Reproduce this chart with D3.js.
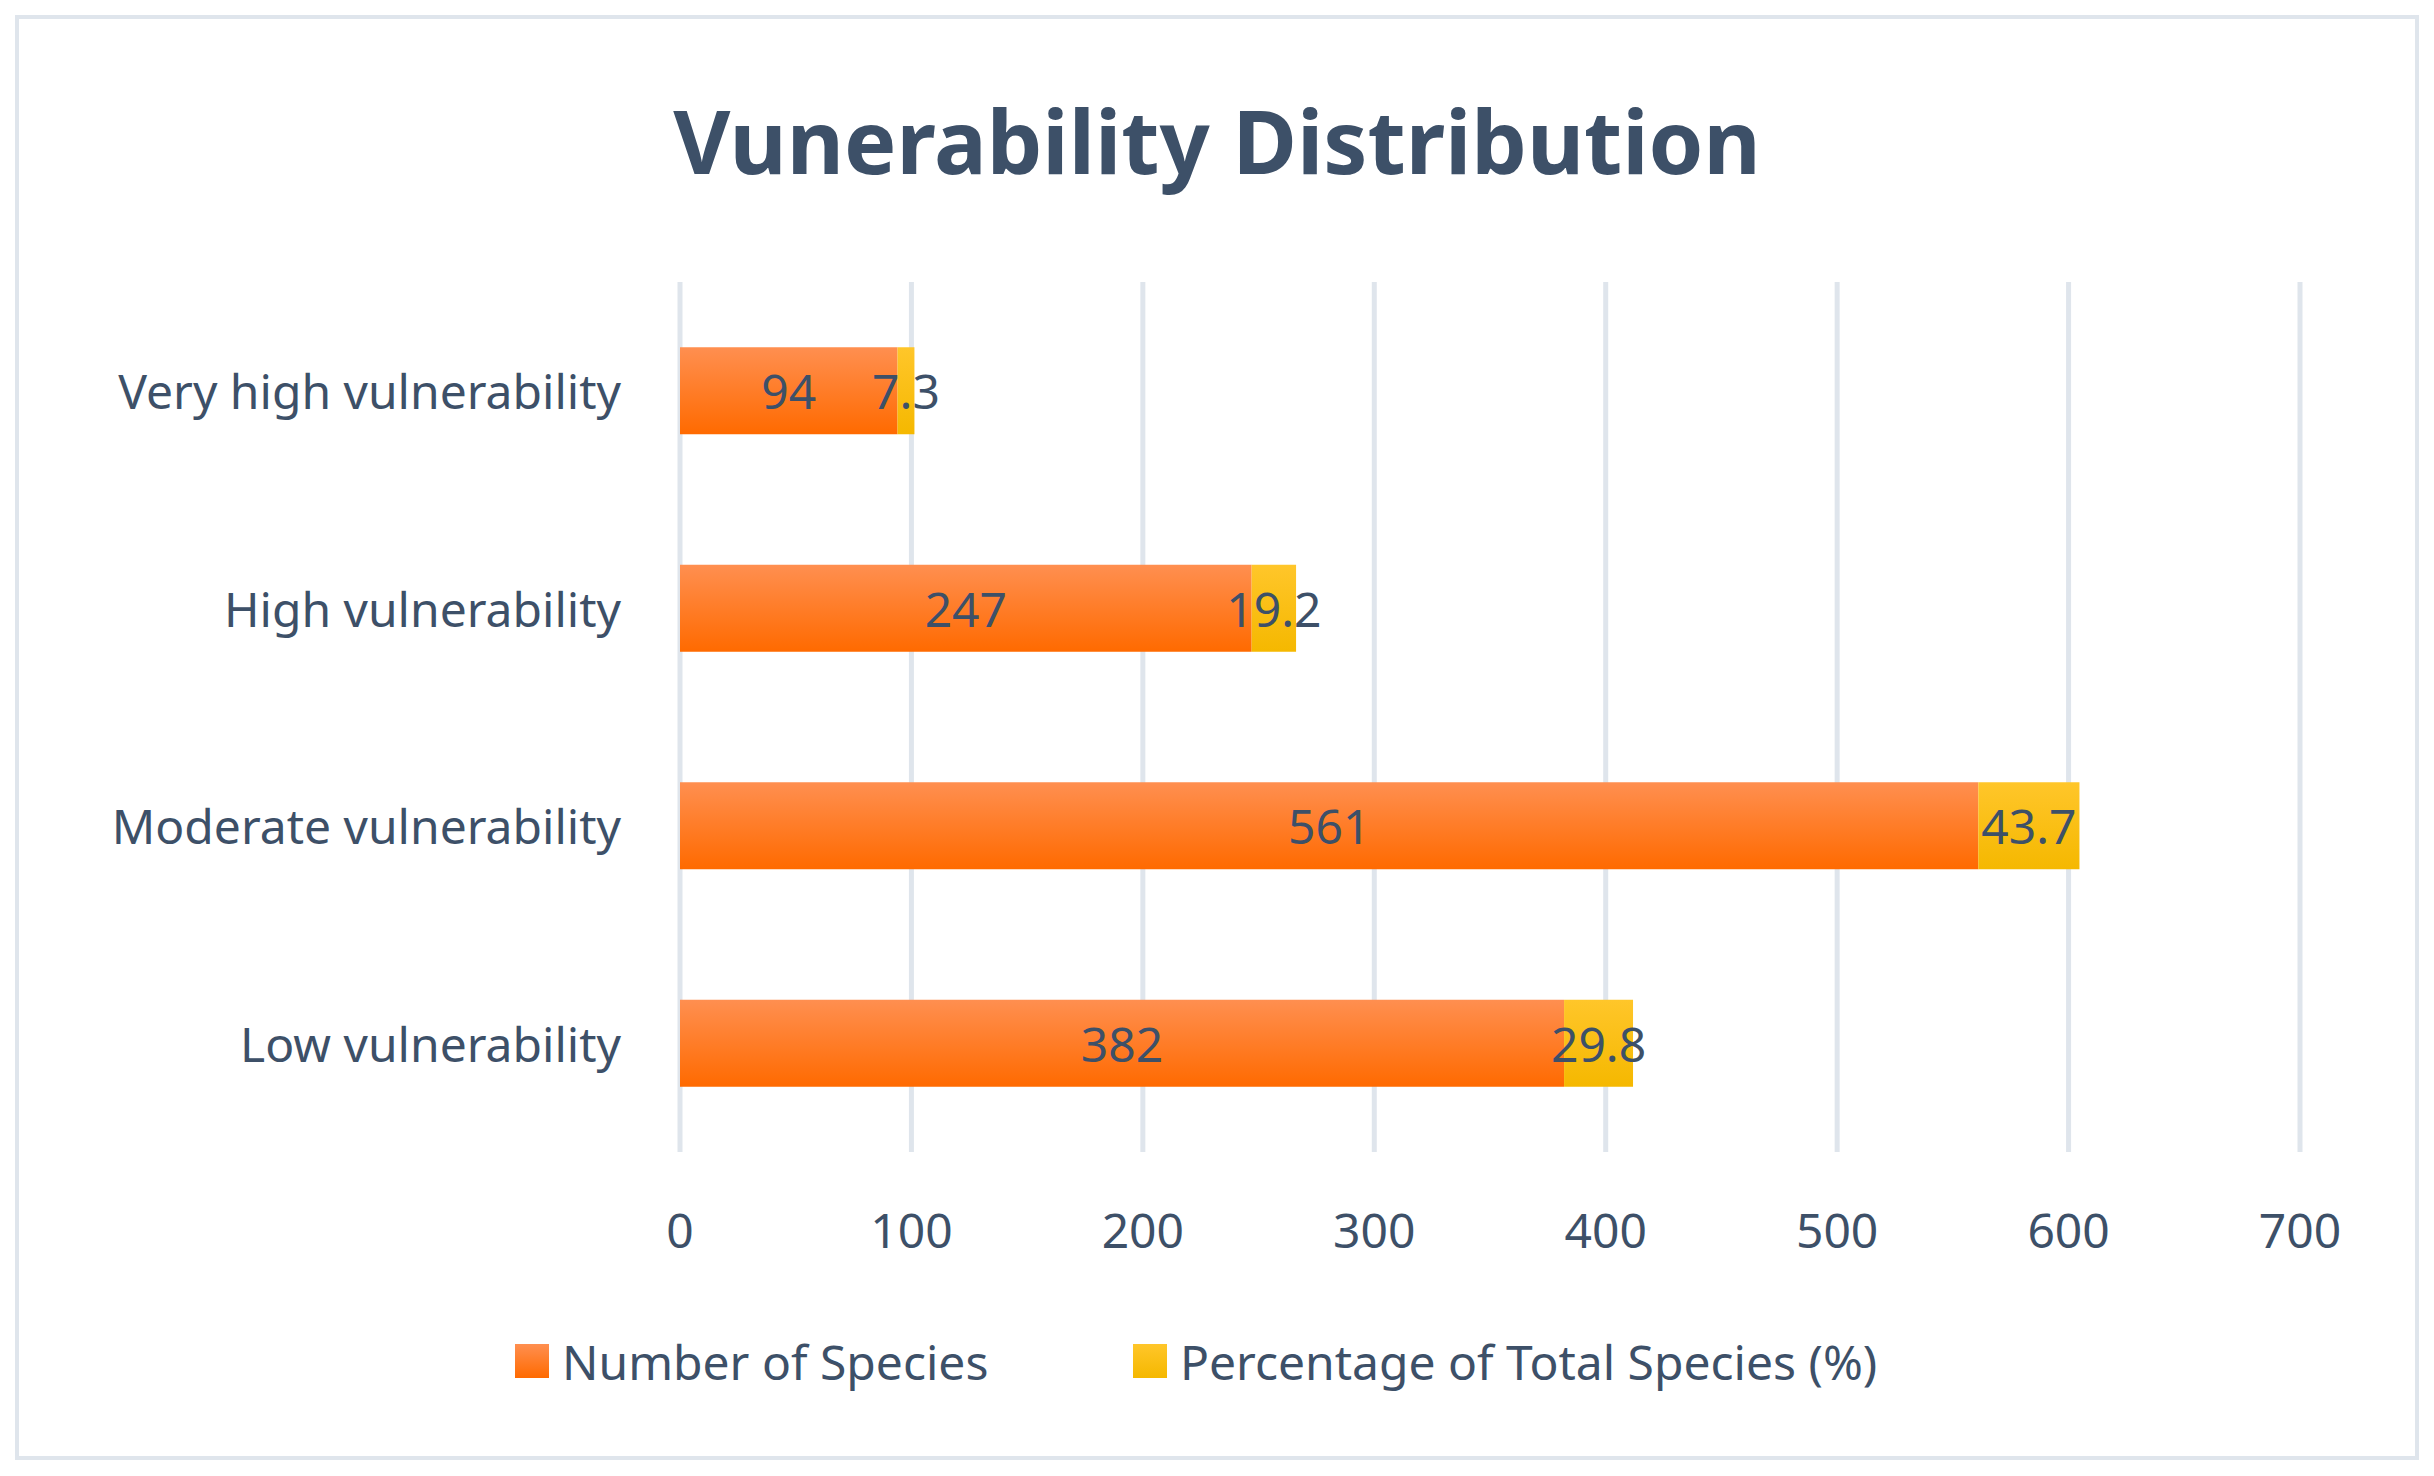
<!DOCTYPE html><html><head><meta charset="utf-8"><script src="https://cdn.jsdelivr.net/npm/d3@7"></script>
<style>body{margin:0;background:#fff}text{font-family:"Noto Sans",sans-serif;fill:#3d5068}</style></head><body><svg id="c" width="2434" height="1476"></svg><script>
const categories=["Very high vulnerability","High vulnerability","Moderate vulnerability","Low vulnerability"];
const numberOfSpecies=[94,247,561,382];
const percentage=[7.3,19.2,43.7,29.8];
const ticks=[0,100,200,300,400,500,600,700];
const seriesNames=["Number of Species","Percentage of Total Species (%)"];
const svg=d3.select("#c");
const defs=svg.append("defs");
const g1=defs.append("linearGradient").attr("id","go").attr("x1",0).attr("y1",0).attr("x2",0).attr("y2",1);
g1.append("stop").attr("offset","0").attr("stop-color","#ff8f50");g1.append("stop").attr("offset","1").attr("stop-color","#ff6a00");
const g2=defs.append("linearGradient").attr("id","gy").attr("x1",0).attr("y1",0).attr("x2",0).attr("y2",1);
g2.append("stop").attr("offset","0").attr("stop-color","#ffc62a");g2.append("stop").attr("offset","1").attr("stop-color","#f5b800");
svg.append("rect").attr("x",17).attr("y",17).attr("width",2400).attr("height",1441).attr("fill","#fff").attr("stroke","#dfe5ec").attr("stroke-width",4);
svg.append("text").attr("x",1217).attr("y",140).attr("text-anchor","middle").attr("dominant-baseline","central").attr("font-size",88).attr("font-weight","bold").text("Vunerability Distribution");
const x=d3.scaleLinear().domain([0,700]).range([680,2300]);
const y=d3.scaleBand().domain(categories).range([282,1152]).paddingInner(0.6).paddingOuter(0.3);
svg.append("g").selectAll("line").data(ticks).join("line").attr("x1",d=>x(d)).attr("x2",d=>x(d)).attr("y1",282).attr("y2",1152).attr("stroke","#dfe5ec").attr("stroke-width",5);
svg.append("g").selectAll("text").data(ticks).join("text").attr("x",d=>x(d)).attr("y",1229).attr("text-anchor","middle").attr("dominant-baseline","central").attr("font-size",48).text(d=>d);
svg.append("g").selectAll("text").data(categories).join("text").attr("x",621).attr("y",d=>y(d)+y.bandwidth()/2).attr("text-anchor","end").attr("dominant-baseline","central").attr("font-size",48).text(d=>d);
categories.forEach((c,i)=>{
 const a=numberOfSpecies[i],b=percentage[i],yy=y(c),h=y.bandwidth();
 svg.append("rect").attr("x",x(0)).attr("y",yy).attr("width",x(a)-x(0)).attr("height",h).attr("fill","url(#go)");
 svg.append("rect").attr("x",x(a)).attr("y",yy).attr("width",x(a+b)-x(a)).attr("height",h).attr("fill","url(#gy)");
 svg.append("text").attr("x",(x(0)+x(a))/2).attr("y",yy+h/2).attr("text-anchor","middle").attr("dominant-baseline","central").attr("font-size",48).text(a);
 svg.append("text").attr("x",(x(a)+x(a+b))/2).attr("y",yy+h/2).attr("text-anchor","middle").attr("dominant-baseline","central").attr("font-size",48).text(b);
});
const lx=[515,1133],fills=["url(#go)","url(#gy)"];
seriesNames.forEach((s,i)=>{
 svg.append("rect").attr("x",lx[i]).attr("y",1344).attr("width",34).attr("height",34).attr("fill",fills[i]);
 svg.append("text").attr("x",lx[i]+47).attr("y",1361).attr("dominant-baseline","central").attr("font-size",48).text(s);
});
</script></body></html>
